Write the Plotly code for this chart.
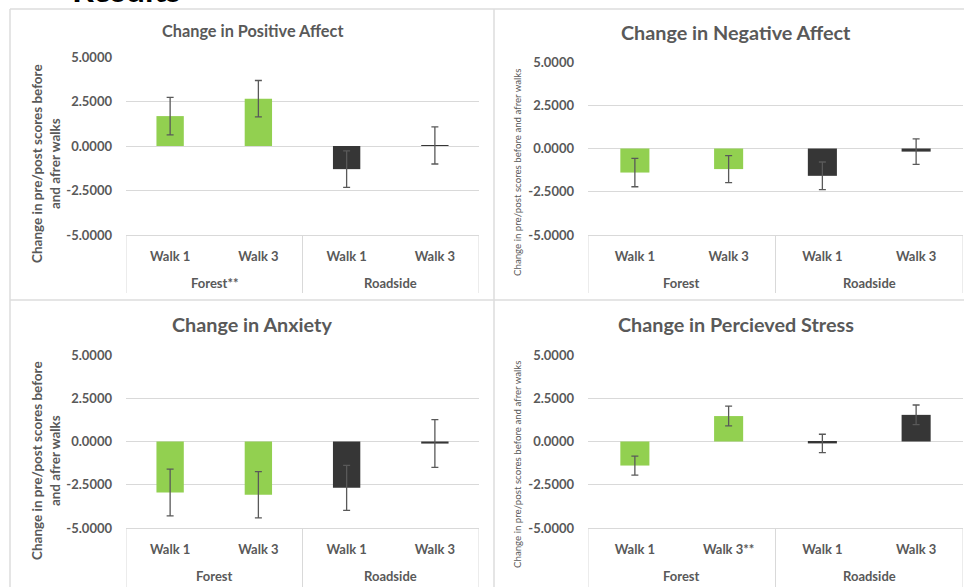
import plotly.graph_objects as go

W, H = 964, 587

# ---- data ----
groups_pa = ["Forest**", "Roadside"]
groups = ["Forest", "Roadside"]
walks = ["Walk 1", "Walk 3", "Walk 1", "Walk 3"]
walks_ps = ["Walk 1", "Walk 3**", "Walk 1", "Walk 3"]

pos_affect = [1.68, 2.66, -1.30, 0.03]
pos_affect_err = [1.05, 1.02, 1.03, 1.04]

neg_affect = [-1.39, -1.19, -1.58, -0.18]
neg_affect_err = [0.82, 0.78, 0.80, 0.74]

anxiety = [-2.95, -3.08, -2.68, -0.12]
anxiety_err = [1.35, 1.34, 1.30, 1.38]

stress = [-1.39, 1.47, -0.11, 1.54]
stress_err = [0.55, 0.57, 0.53, 0.57]

y_ticks = [-5.0, -2.5, 0.0, 2.5, 5.0]
y_tick_labels = [f"{v:.4f}" for v in y_ticks]

bar_colors = ["#92D050", "#92D050", "#363636", "#363636"]

titles = ["Change in Positive Affect", "Change in Negative Affect",
          "Change in Anxiety", "Change in Percieved Stress"]
ytitle_two = "Change in pre/post scores before<br>and afrer walks"
ytitle_one = "Change in pre/post scores before and afrer walks"

TXT = "#595959"
GRID = "#D9D9D9"
FONT = "Lato"


def px_x(v):
    return v / W


def px_y(v):
    return 1 - v / H


panels = [
    dict(v=pos_affect, e=pos_affect_err, g=groups_pa, w=walks, x=(126, 479), y=(57, 235), bot=293,
         t=titles[0], txy=(252, 30), ts=16.3, yt=ytitle_two, yxy=(46, 164), ys=13.5, yb=True),
    dict(v=neg_affect, e=neg_affect_err, g=groups, w=walks, x=(588, 963), y=(62, 235), bot=293,
         t=titles[1], txy=(736, 32), ts=19.8, yt=ytitle_one, yxy=(517, 173), ys=9.7, yb=False),
    dict(v=anxiety, e=anxiety_err, g=groups, w=walks, x=(126, 479), y=(355, 528), bot=587,
         t=titles[2], txy=(252, 324), ts=19.8, yt=ytitle_two, yxy=(46, 461), ys=13.5, yb=True),
    dict(v=stress, e=stress_err, g=groups, w=walks_ps, x=(588, 963), y=(355, 528), bot=587,
         t=titles[3], txy=(736, 324), ts=19.8, yt=ytitle_one, yxy=(517, 465), ys=9.7, yb=False),
]

fig = go.Figure()
annotations = []
shapes = []
layout = {}
for i, p in enumerate(panels, start=1):
    xa = "x" if i == 1 else f"x{i}"
    ya = "y" if i == 1 else f"y{i}"
    idx = list(range(len(p["w"])))
    n_per_group = len(p["w"]) // len(p["g"])
    fig.add_trace(go.Bar(
        x=idx, y=p["v"],
        marker=dict(color=bar_colors, line=dict(width=0)),
        width=0.31,
        error_y=dict(type="data", array=p["e"], visible=True,
                     color="#595959", thickness=1.3, width=3.5),
        xaxis=xa, yaxis=ya, showlegend=False,
    ))
    layout[f"xaxis{'' if i == 1 else i}"] = dict(
        domain=[px_x(p["x"][0]), px_x(p["x"][1])], range=[-0.5, len(idx) - 0.5],
        anchor=ya, showline=True, linecolor=GRID, linewidth=1,
        showgrid=False, zeroline=False, ticks="", automargin=False,
        tickvals=idx, ticktext=p["w"], ticklabelstandoff=9,
        tickfont=dict(family=FONT, size=13, color=TXT, weight="bold"),
        fixedrange=True,
    )
    layout[f"yaxis{'' if i == 1 else i}"] = dict(
        domain=[px_y(p["y"][1]), px_y(p["y"][0])], anchor=xa,
        range=[-5, 5], tickvals=y_ticks, ticktext=y_tick_labels,
        showgrid=True, gridcolor=GRID, gridwidth=1,
        zeroline=True, zerolinecolor=GRID, zerolinewidth=1,
        showline=False, ticks="", ticklabelstandoff=13, automargin=False,
        tickfont=dict(family=FONT, size=13, color=TXT, weight="bold"),
        fixedrange=True,
    )
    for gi, g in enumerate(p["g"]):
        center = gi * n_per_group + (n_per_group - 1) / 2
        annotations.append(dict(
            text=g, x=center, xref=xa, y=px_y(p["y"][1] + 48), yref="paper",
            showarrow=False, xanchor="center", yanchor="middle",
            font=dict(family=FONT, size=13, color=TXT, weight="bold"),
        ))
    for d in range(len(p["g"]) + 1):
        xd = d * n_per_group - 0.5
        shapes.append(dict(
            type="line", xref=xa, yref="paper", x0=xd, x1=xd,
            y0=px_y(p["y"][1]), y1=px_y(p["bot"]),
            line=dict(color=GRID, width=1),
        ))
    annotations.append(dict(
        text=p["t"], x=px_x(p["txy"][0]), y=px_y(p["txy"][1]),
        xref="paper", yref="paper", showarrow=False,
        xanchor="center", yanchor="middle",
        font=dict(family=FONT, size=p["ts"], color=TXT, weight="bold"),
    ))
    annotations.append(dict(
        text=p["yt"], x=px_x(p["yxy"][0]), y=px_y(p["yxy"][1]),
        xref="paper", yref="paper", showarrow=False, textangle=-90,
        xanchor="center", yanchor="middle",
        font=dict(family=FONT, size=p["ys"], color=TXT,
                  weight="bold" if p["yb"] else "normal"),
    ))

annotations.append(dict(
    text="Results", x=px_x(126), y=px_y(4), xref="paper", yref="paper",
    showarrow=False, xanchor="center", yanchor="bottom", yshift=-7,
    font=dict(family=FONT, size=34, color="#000000", weight="bold"),
))

frame = dict(color="#DCDCDC", width=1.5)
shapes += [
    dict(type="line", xref="paper", yref="paper", x0=px_x(10), x1=px_x(10), y0=px_y(9), y1=0, line=frame),
    dict(type="line", xref="paper", yref="paper", x0=px_x(494), x1=px_x(494), y0=px_y(9), y1=0, line=frame),
    dict(type="line", xref="paper", yref="paper", x0=px_x(10), x1=1, y0=px_y(9), y1=px_y(9), line=frame),
    dict(type="line", xref="paper", yref="paper", x0=px_x(10), x1=1, y0=px_y(300), y1=px_y(300), line=frame),
]

fig.update_layout(
    width=W, height=H, margin=dict(l=0, r=0, t=0, b=0, pad=0, autoexpand=False),
    paper_bgcolor="white", plot_bgcolor="white",
    annotations=annotations, shapes=shapes,
    **layout,
)

post = (
    "document.documentElement.style.margin='0';"
    "document.documentElement.style.overflow='hidden';"
    "document.body.style.margin='0';"
    "document.body.style.overflow='hidden';"
    "var d=document.getElementById('{plot_id}');"
    "d.style.position='fixed';d.style.top='0px';d.style.left='0px';"
)
fig.write_html("out.html", config={"displayModeBar": False}, post_script=post)
